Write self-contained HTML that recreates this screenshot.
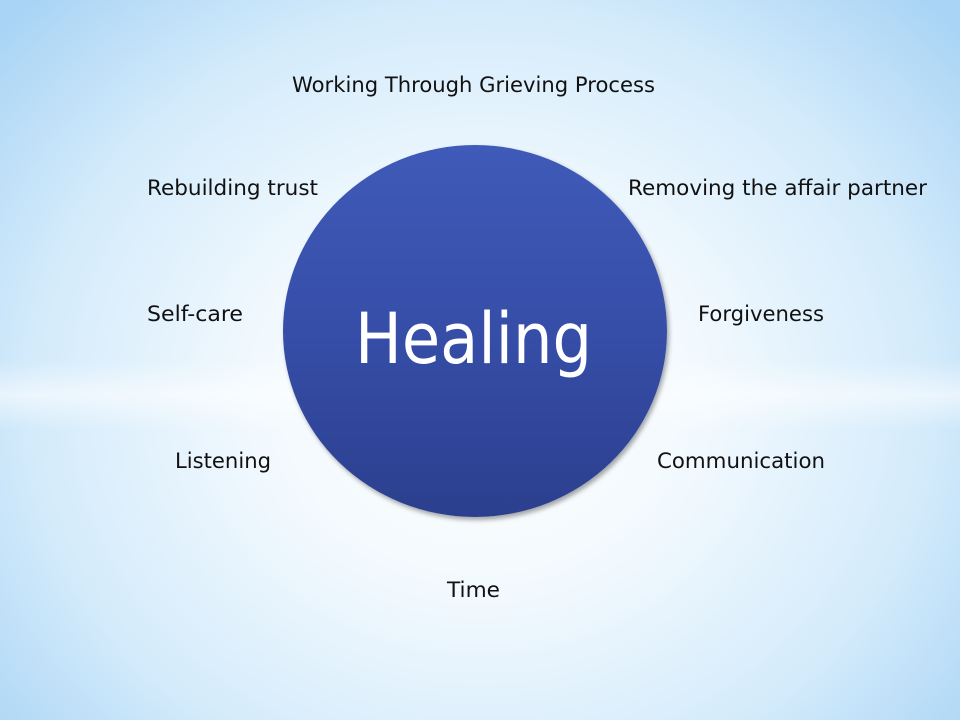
<!DOCTYPE html>
<html><head><style>
html,body{margin:0;padding:0}
body{width:960px;height:720px;position:relative;overflow:hidden;
background:radial-gradient(ellipse 640px 560px at 480px 400px,#ffffff 0%,#f2f9fe 35%,#d4ebfb 70%,#a9d4f5 100%);
font-family:"Liberation Sans",sans-serif;color:#111}
.band{position:absolute;left:0;width:960px;top:360px;height:70px;
background:linear-gradient(to bottom,rgba(255,255,255,0),rgba(255,255,255,0.55) 50%,rgba(255,255,255,0));}
.c{position:absolute;left:283px;top:145px;width:384px;height:372px;border-radius:50%;
background:linear-gradient(to bottom,#3f5ab8,#364ea8 50%,#2c3f8e);box-shadow:2px 3px 5px rgba(0,0,0,0.35)}
svg{position:absolute;left:0;top:0}
</style></head><body>
<div class="band"></div>
<div class="c"></div>
<svg width="960" height="720" font-family="DejaVu Sans, Liberation Sans, sans-serif" font-size="21" fill="#111">
<text x="355" y="363" font-size="70" fill="#fff" textLength="237" lengthAdjust="spacingAndGlyphs">Healing</text>
<text x="292" y="92" textLength="363" lengthAdjust="spacingAndGlyphs">Working Through Grieving Process</text>
<text x="147" y="195" textLength="171" lengthAdjust="spacingAndGlyphs">Rebuilding trust</text>
<text x="628" y="195" textLength="299" lengthAdjust="spacingAndGlyphs">Removing the affair partner</text>
<text x="147" y="321" textLength="96" lengthAdjust="spacingAndGlyphs">Self-care</text>
<text x="698" y="321" textLength="126" lengthAdjust="spacingAndGlyphs">Forgiveness</text>
<text x="175" y="468" textLength="96" lengthAdjust="spacingAndGlyphs">Listening</text>
<text x="657" y="468" textLength="168" lengthAdjust="spacingAndGlyphs">Communication</text>
<text x="447" y="597" textLength="53" lengthAdjust="spacingAndGlyphs">Time</text>
</svg>
</body></html>
